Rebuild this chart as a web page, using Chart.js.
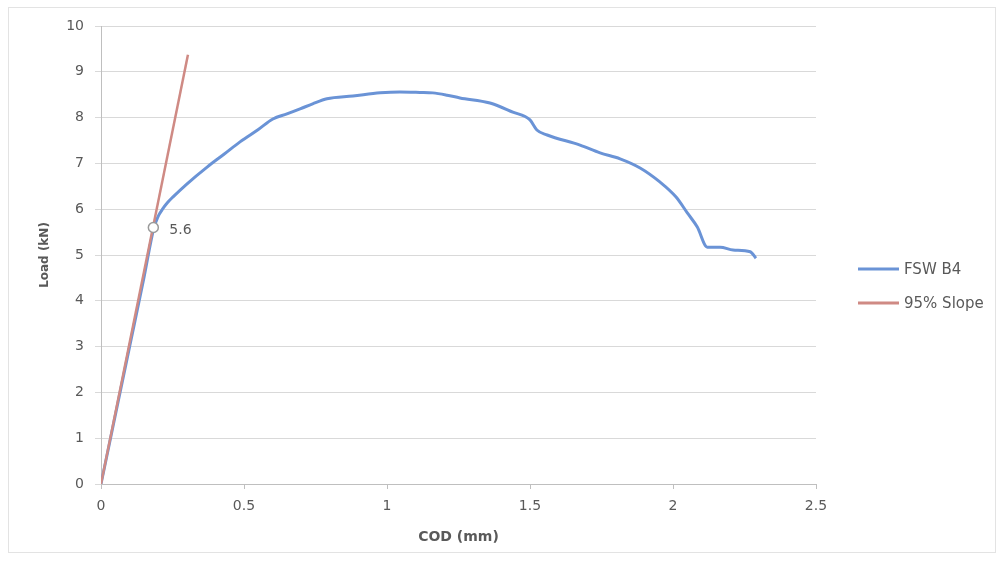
<!DOCTYPE html>
<html>
<head>
<meta charset="utf-8">
<script src="https://cdn.jsdelivr.net/npm/chart.js@4.4.1/dist/chart.umd.min.js"></script>
<style>
    html, body { margin: 0; padding: 0; background: #fff; }
    #wrap { position: relative; width: 1002px; height: 562px; }
</style>
</head>
<body>
<div id="wrap"><canvas id="chart"></canvas></div>
<script>
// FSW B4 load vs crack opening displacement
const codFsw = [0, 0.05, 0.10, 0.15, 0.185, 0.193, 0.202, 0.215, 0.232, 0.252, 0.30, 0.371, 0.43, 0.486, 0.55,
    0.601, 0.65, 0.696, 0.74, 0.79, 0.881, 0.976, 1.045, 1.115, 1.16, 1.21, 1.255, 1.36, 1.44, 1.50,
    1.524, 1.56, 1.675, 1.745, 1.815, 1.885, 1.955, 2.01, 2.05, 2.085, 2.12, 2.165, 2.21, 2.27, 2.29];
const loadFsw = [0, 1.5, 3.0, 4.5, 5.6, 5.74, 5.87, 6.0, 6.14, 6.27, 6.55, 6.92, 7.2, 7.47, 7.74,
    7.97, 8.08, 8.19, 8.3, 8.41, 8.47, 8.54, 8.56, 8.55, 8.54, 8.49, 8.43, 8.32, 8.12, 7.95,
    7.73, 7.62, 7.40, 7.23, 7.10, 6.90, 6.59, 6.27, 5.92, 5.61, 5.17, 5.17, 5.11, 5.07, 4.93];

// 95% slope line
const codSlope = [0, 0.304];
const loadSlope = [0, 9.37];

// intersection marker
const codMark = [0.183];
const loadMark = [5.6];
const markLabels = ['5.6'];

const seriesNames = ['FSW B4', '95% Slope'];
const xTicks = { min: 0, max: 2.5, step: 0.5 };
const yTicks = { min: 0, max: 10, step: 1 };

const FONT = 'DejaVu Sans';
const TEXT = '#595959';

const toPoints = (xs, ys) => xs.map((x, i) => ({ x: x, y: ys[i] }));

// light frame round the whole chart
const framePlugin = {
    id: 'frame',
    beforeDraw(chart) {
        const ctx = chart.ctx;
        ctx.save();
        ctx.strokeStyle = '#e3e3e3';
        ctx.lineWidth = 1;
        ctx.strokeRect(8.5, 7.5, 987, 545);
        ctx.restore();
    }
};

// "5.6" next to the marker
const markLabelPlugin = {
    id: 'markLabel',
    afterDatasetsDraw(chart) {
        const meta = chart.getDatasetMeta(2);
        const ctx = chart.ctx;
        ctx.save();
        ctx.font = '14px ' + FONT;
        ctx.fillStyle = TEXT;
        ctx.textBaseline = 'middle';
        meta.data.forEach((pt, i) => {
            ctx.fillText(markLabels[i], pt.x + 16, pt.y + 3);
        });
        ctx.restore();
    }
};

// legend on the right, line samples like Excel
const sideLegend = {
    id: 'sideLegend',
    afterDraw(chart) {
        const ctx = chart.ctx;
        ctx.save();
        ctx.font = '15px ' + FONT;
        ctx.textBaseline = 'middle';
        seriesNames.forEach((name, i) => {
            const ds = chart.data.datasets[i];
            const y = 269 + i * 34;
            ctx.strokeStyle = ds.borderColor;
            ctx.lineWidth = 3;
            ctx.beginPath();
            ctx.moveTo(858, y);
            ctx.lineTo(899, y);
            ctx.stroke();
            ctx.fillStyle = TEXT;
            ctx.fillText(name, 904, y + 1);
        });
        ctx.restore();
    }
};

new Chart(document.getElementById('chart'), {
    type: 'scatter',
    data: {
        datasets: [{
            label: seriesNames[0],
            data: toPoints(codFsw, loadFsw),
            showLine: true,
            borderColor: '#6a93d6',
            borderWidth: 3,
            pointRadius: 0,
            cubicInterpolationMode: 'monotone',
            order: 2
        }, {
            label: seriesNames[1],
            data: toPoints(codSlope, loadSlope),
            showLine: true,
            borderColor: '#cf8a84',
            borderWidth: 2.5,
            pointRadius: 0,
            order: 1
        }, {
            label: 'marker',
            data: toPoints(codMark, loadMark),
            pointRadius: 5,
            pointBackgroundColor: '#ffffff',
            pointBorderColor: '#9a9a9a',
            pointBorderWidth: 1.5,
            order: 0
        }]
    },
    options: {
        responsive: true,
        maintainAspectRatio: false,
        animation: false,
        layout: { padding: { left: 0, top: 26, right: 186, bottom: 0 } },
        plugins: {
            legend: { display: false },
            tooltip: { enabled: false }
        },
        scales: {
            x: {
                type: 'linear',
                min: xTicks.min,
                max: xTicks.max,
                afterFit: (scale) => { scale.height = 78; },
                ticks: {
                    stepSize: xTicks.step,
                    padding: 9,
                    color: TEXT,
                    font: { family: FONT, size: 14 },
                    callback: (value) => String(Number(value))
                },
                grid: { drawOnChartArea: false, drawTicks: true, tickLength: 5, color: '#bfbfbf' },
                border: { display: true, color: '#bfbfbf' },
                title: {
                    display: true,
                    text: 'COD (mm)',
                    color: TEXT,
                    font: { family: FONT, size: 14, weight: 'bold' },
                    padding: { top: 0, bottom: 16 }
                }
            },
            y: {
                min: yTicks.min,
                max: yTicks.max,
                afterFit: (scale) => { scale.width = 101; },
                ticks: {
                    stepSize: yTicks.step,
                    padding: 11,
                    color: TEXT,
                    font: { family: FONT, size: 14 }
                },
                grid: { color: '#d9d9d9', tickLength: 6 },
                border: { display: true, color: '#bfbfbf' },
                title: {
                    display: true,
                    text: 'Load (kN)',
                    color: TEXT,
                    font: { family: FONT, size: 12, weight: 'bold' },
                    padding: { top: 38, bottom: 0 }
                }
            }
        }
    },
    plugins: [framePlugin, markLabelPlugin, sideLegend]
});
</script>
</body>
</html>
